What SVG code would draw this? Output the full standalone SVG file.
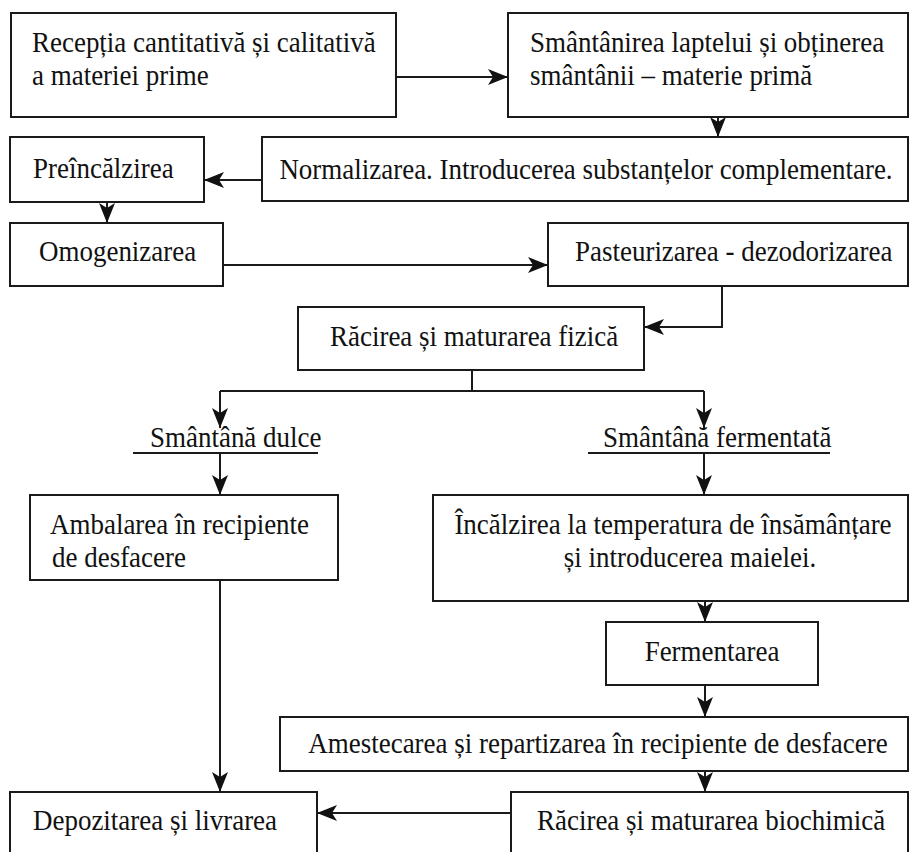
<svg xmlns="http://www.w3.org/2000/svg" width="909" height="852" viewBox="0 0 909 852">
<style>
.box{fill:#fff;stroke:#1a1a1a;stroke-width:2}
.t{font-family:"Liberation Serif","DejaVu Serif",serif;font-size:29px;fill:#111;transform:scaleX(0.93);transform-box:fill-box;transform-origin:left center}
.c{text-anchor:middle;transform-origin:center}
.ln{fill:none;stroke:#1a1a1a;stroke-width:2}
</style>
<defs>
<marker id="ah" viewBox="0 0 20 16" refX="20" refY="8" markerWidth="20" markerHeight="16" markerUnits="userSpaceOnUse" orient="auto">
<path d="M0,0 L20,8 L0,16 L5,8 Z" fill="#111"/>
</marker>
</defs>
<rect width="909" height="852" fill="#fff"/>
<g id="connectors">
<path class="ln" d="M396,77 H508" marker-end="url(#ah)"/>
<path class="ln" d="M718,117 V137" marker-end="url(#ah)"/>
<path class="ln" d="M262,180 H204" marker-end="url(#ah)"/>
<path class="ln" d="M107,202 V223" marker-end="url(#ah)"/>
<path class="ln" d="M223,265 H548" marker-end="url(#ah)"/>
<path class="ln" d="M722,286 V327 H644" marker-end="url(#ah)"/>
<path class="ln" d="M472,370 V391"/>
<path class="ln" d="M220,391 H704"/>
<path class="ln" d="M220,391 V428" marker-end="url(#ah)"/>
<path class="ln" d="M704,391 V428" marker-end="url(#ah)"/>
<path class="ln" d="M220,453 V495" marker-end="url(#ah)"/>
<path class="ln" d="M704,453 V495" marker-end="url(#ah)"/>
<path class="ln" d="M705,601 V622" marker-end="url(#ah)"/>
<path class="ln" d="M705,685 V717" marker-end="url(#ah)"/>
<path class="ln" d="M705,771 V792" marker-end="url(#ah)"/>
<path class="ln" d="M220,580 V792" marker-end="url(#ah)"/>
<path class="ln" d="M511,813 H317" marker-end="url(#ah)"/>
</g>
<g id="n1"><rect class="box" x="11" y="13" width="385" height="104"/>
<text class="t" x="32" y="52">Recepția cantitativă și calitativă</text>
<text class="t" x="32" y="85">a materiei prime</text></g>
<g id="n2"><rect class="box" x="508" y="13" width="400" height="104"/>
<text class="t" x="530" y="52">Smântânirea laptelui și obținerea</text>
<text class="t" x="530" y="85">smântânii – materie primă</text></g>
<g id="n3"><rect class="box" x="262" y="137" width="646" height="64"/>
<text class="t c" x="586" y="179">Normalizarea. Introducerea substanțelor complementare.</text></g>
<g id="n4"><rect class="box" x="10" y="137" width="194" height="65"/>
<text class="t" x="33" y="178">Preîncălzirea</text></g>
<g id="n5"><rect class="box" x="10" y="223" width="213" height="63"/>
<text class="t" x="39" y="261">Omogenizarea</text></g>
<g id="n6"><rect class="box" x="548" y="223" width="360" height="63"/>
<text class="t" x="575" y="261">Pasteurizarea - dezodorizarea</text></g>
<g id="n7"><rect class="box" x="298" y="307" width="346" height="63"/>
<text class="t" x="330" y="346">Răcirea și maturarea fizică</text></g>
<g id="l1"><text class="t" x="150" y="447">Smântână dulce</text>
<path class="ln" d="M133,453 H318"/></g>
<g id="l2"><text class="t" x="603" y="447">Smântână fermentată</text>
<path class="ln" d="M588,453 H830"/></g>
<g id="n8"><rect class="box" x="30" y="495" width="308" height="85"/>
<text class="t" x="50" y="534">Ambalarea în recipiente</text>
<text class="t" x="52" y="567">de desfacere</text></g>
<g id="n9"><rect class="box" x="433" y="495" width="475" height="106"/>
<text class="t c" x="673" y="534">Încălzirea la temperatura de însămânțare</text>
<text class="t c" x="690" y="567">și introducerea maielei.</text></g>
<g id="n10"><rect class="box" x="606" y="622" width="212" height="63"/>
<text class="t c" x="712" y="661">Fermentarea</text></g>
<g id="n11"><rect class="box" x="280" y="717" width="628" height="54"/>
<text class="t c" x="598" y="753">Amestecarea și repartizarea în recipiente de desfacere</text></g>
<g id="n12"><rect class="box" x="10" y="792" width="307" height="70"/>
<text class="t" x="33" y="830">Depozitarea și livrarea</text></g>
<g id="n13"><rect class="box" x="511" y="792" width="397" height="70"/>
<text class="t" x="537" y="830">Răcirea și maturarea biochimică</text></g>
</svg>
